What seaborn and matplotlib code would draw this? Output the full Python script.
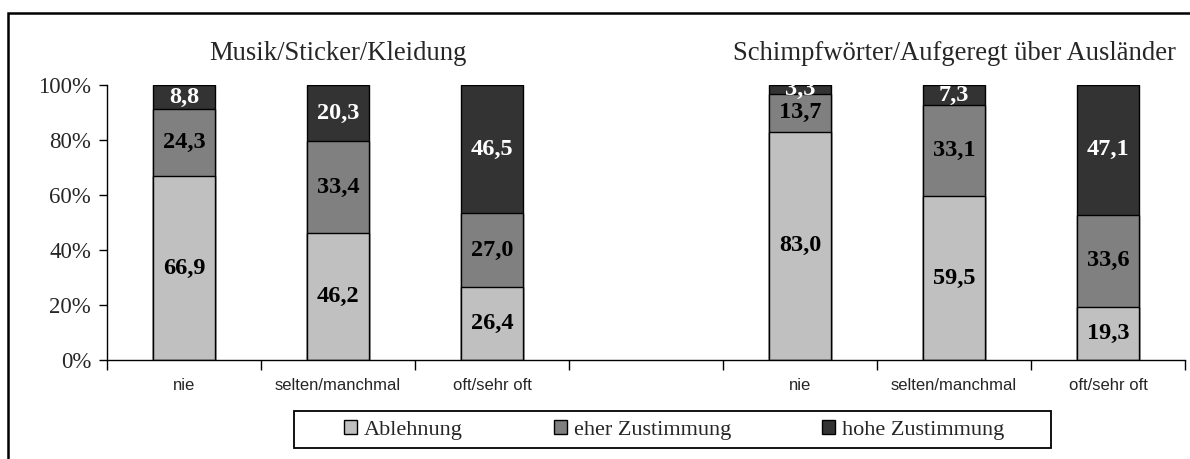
import matplotlib
matplotlib.use("Agg")
import matplotlib.pyplot as plt
from matplotlib.patches import Rectangle, Patch
import seaborn as sns
import pandas as pd

# Response categories (frequency) for the two item groups
frequency = ["nie", "selten/manchmal", "oft/sehr oft"]
groups = ["Musik/Sticker/Kleidung", "Schimpfwörter/Aufgeregt über Ausländer"]
series = ["Ablehnung", "eher Zustimmung", "hohe Zustimmung"]

# Percentages per group, ordered nie, selten/manchmal, oft/sehr oft
musik_ablehnung = [66.9, 46.2, 26.4]
musik_eher = [24.3, 33.4, 27.0]
musik_hohe = [8.8, 20.3, 46.5]

schimpf_ablehnung = [83.0, 59.5, 19.3]
schimpf_eher = [13.7, 33.1, 33.6]
schimpf_hohe = [3.3, 7.3, 47.1]

colors = ["#c0c0c0", "#808080", "#333333"]
label_colors = ["black", "black", "white"]

rows = []
for gi, (abl, eher, hohe) in enumerate([(musik_ablehnung, musik_eher, musik_hohe),
                                         (schimpf_ablehnung, schimpf_eher, schimpf_hohe)]):
    for fi, f in enumerate(frequency):
        rows.append({"key": f"{gi}_{fi}", "Ablehnung": abl[fi],
                     "eher Zustimmung": eher[fi], "hohe Zustimmung": hohe[fi]})
df = pd.DataFrame(rows)
df["c1"] = df["Ablehnung"]
df["c2"] = df["c1"] + df["eher Zustimmung"]
df["c3"] = df["c2"] + df["hohe Zustimmung"]

order = ["0_0", "0_1", "0_2", "gap", "1_0", "1_1", "1_2"]

sns.set_theme(style="white")
plt.rcParams["font.family"] = ["Liberation Serif", "DejaVu Serif"]

fig = plt.figure(figsize=(11.9, 4.59), dpi=100)
ax = fig.add_axes([107 / 1190, 1 - 360 / 459, (1185 - 107) / 1190, 275 / 459])

# Overlapping cumulative bars give the stacked look; tallest layer first
layers = []
for col, color in zip(["c3", "c2", "c1"], colors[::-1]):
    before = len(ax.patches)
    sns.barplot(data=df, x="key", y=col, order=order, color=color, width=0.4,
                edgecolor="black", linewidth=1.0, saturation=1, ax=ax, zorder=2)
    layers.append(ax.patches[before:])
dark_bars = layers[0]

# Segment value labels, centred in each segment
for i, row in df.iterrows():
    xpos = order.index(row["key"])
    bottoms = [0, row["c1"], row["c2"]]
    for si, s in enumerate(series):
        v = row[s]
        ytxt = bottoms[si] + v / 2
        t = ax.text(xpos, ytxt, f"{v:.1f}".replace(".", ","), ha="center", va="center",
                    fontsize=17.5, fontweight="bold", color=label_colors[si],
                    zorder=2.5 if si == 2 else 5)
        if si == 2:
            t.set_clip_path(dark_bars[i])

ax.set_xlim(-0.5, 6.5)
ax.set_ylim(0, 100)
ax.set_xlabel("")
ax.set_ylabel("")

ax.set_yticks([0, 20, 40, 60, 80, 100])
ax.set_yticklabels([f"{v}%" for v in [0, 20, 40, 60, 80, 100]], fontsize=16.5)
ax.tick_params(axis="y", direction="out", length=5.5, width=1.0, pad=6, left=True, color="black")

ax.set_xticks([x - 0.5 for x in range(8)])
ax.set_xticklabels([""] * 8)
ax.set_xticks(range(7), minor=True)
ax.set_xticklabels(frequency + [""] + frequency, minor=True,
                   fontfamily="Liberation Sans", fontsize=12)
ax.tick_params(axis="x", which="major", direction="out", length=7, width=1.0,
               bottom=True, color="black")
ax.tick_params(axis="x", which="minor", length=0, pad=13)

for side in ["top", "right"]:
    ax.spines[side].set_visible(False)
for side in ["left", "bottom"]:
    ax.spines[side].set_color("black")
    ax.spines[side].set_linewidth(1.0)

# Group titles
ax.text(1, 111.6, groups[0], ha="center", va="center", fontsize=19.2, clip_on=False)
ax.text(5, 111.6, groups[1], ha="center", va="center", fontsize=19.2, clip_on=False)

# Legend along the bottom, inside its own box
handles = [Patch(facecolor=c, edgecolor="black", linewidth=1.0) for c in colors]
leg = fig.legend(handles, series, loc="center", bbox_to_anchor=(674 / 1190, 1 - 430 / 459),
                 ncol=3, fontsize=16, frameon=False,
                 handlelength=0.6, handleheight=0.6, handletextpad=0.3,
                 columnspacing=4.1, borderpad=0, borderaxespad=0)
fig.add_artist(Rectangle((294 / 1190, 1 - 448 / 459), (1051 - 294) / 1190, 37 / 459,
                         transform=fig.transFigure, fill=False, edgecolor="black",
                         linewidth=1.3))

# Outer frame around the chart
fig.add_artist(Rectangle((8 / 1190, -0.5), 1.5, 1.5 - 13 / 459, transform=fig.transFigure,
                         fill=False, edgecolor="black", linewidth=1.8))

fig.savefig("out.png", dpi=100)
